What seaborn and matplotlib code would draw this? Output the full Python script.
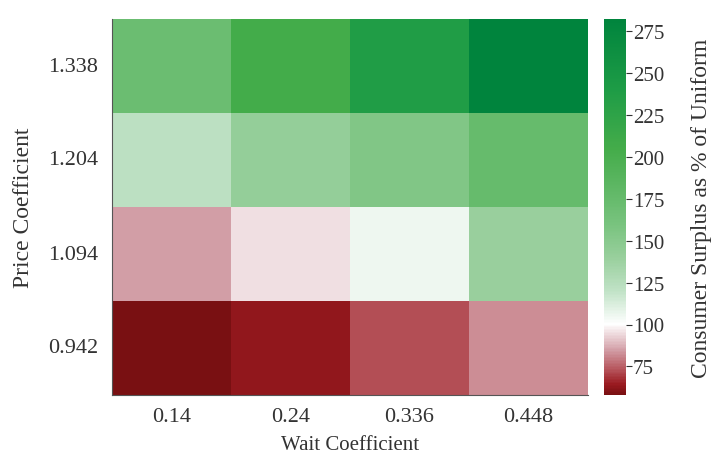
import numpy as np
import pandas as pd
import seaborn as sns
import matplotlib.pyplot as plt
from matplotlib.colors import LinearSegmentedColormap

wait_coef = ["0.14", "0.24", "0.336", "0.448"]
price_coef = ["1.338", "1.204", "1.094", "0.942"]
surplus = [
    [170, 205, 238, 282],
    [122, 142, 155, 175],
    [85, 95, 106, 140],
    [58, 63, 72, 82],
]
cbar_ticks = [75, 100, 125, 150, 175, 200, 225, 250, 275]

vmin, vmax = 58, 282
# colour stops (data value, colour)
stops = [
    (58, "#791012"),
    (64, "#9a1a20"),
    (72, "#b34e55"),
    (85, "#d4a2aa"),
    (100, "#ffffff"),
    (120, "#c0e2c6"),
    (140, "#98cf9c"),
    (160, "#78c37e"),
    (180, "#60b866"),
    (205, "#44ac4a"),
    (240, "#1e9c46"),
    (282, "#00843d"),
]
cmap = LinearSegmentedColormap.from_list(
    "surplus", [((v - vmin) / (vmax - vmin), c) for v, c in stops])

df = pd.DataFrame(surplus, index=price_coef, columns=wait_coef)

plt.rcParams['font.family'] = ['Liberation Serif', 'DejaVu Serif']
plt.rcParams['text.color'] = '#333333'
plt.rcParams['axes.labelcolor'] = '#333333'
plt.rcParams['xtick.color'] = '#333333'
plt.rcParams['ytick.color'] = '#333333'

fig = plt.figure(figsize=(7.17, 4.56), dpi=100)
ax = fig.add_axes([112 / 717, 60 / 456, 476 / 717, 376 / 456])
cax = fig.add_axes([604 / 717, 60 / 456, 22 / 717, 376 / 456])

sns.heatmap(df, ax=ax, cbar_ax=cax, cmap=cmap, vmin=vmin, vmax=vmax,
            cbar_kws={"ticks": cbar_ticks})

ax.set_xlabel("Wait Coefficient", fontsize=15, labelpad=6)
ax.set_ylabel("Price Coefficient", fontsize=17, labelpad=10)
ax.tick_params(axis='both', length=0, labelsize=16)
ax.tick_params(axis='x', pad=9)
ax.tick_params(axis='y', rotation=0, pad=10)
for side in ["left", "bottom"]:
    ax.spines[side].set_visible(True)
    ax.spines[side].set_color("#555555")
    ax.spines[side].set_linewidth(0.8)

cax.tick_params(labelsize=15, length=4, width=0.8, pad=1)
cax.set_ylabel("Consumer Surplus as % of Uniform", fontsize=17, labelpad=19)

fig.savefig("out.png", dpi=100)
